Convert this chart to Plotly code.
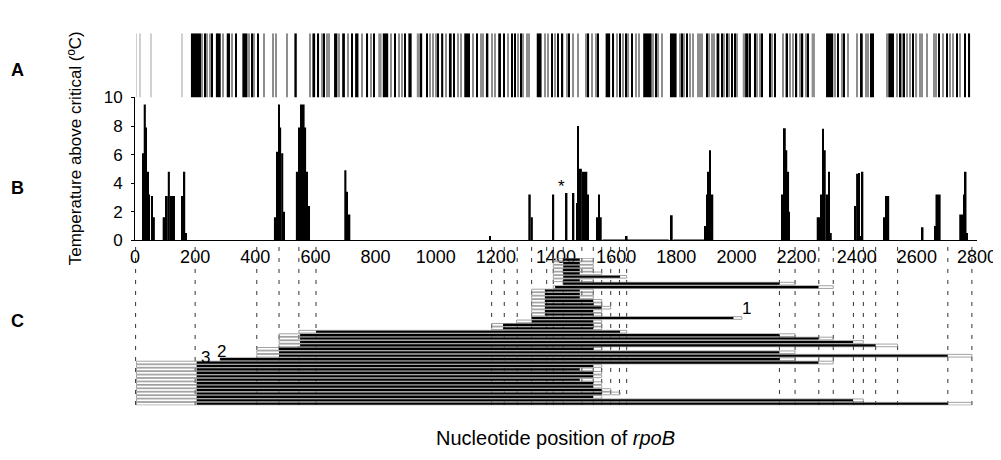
import plotly.graph_objects as go

# ---------------- Panel A: variable-site barcode (nucleotide positions) ----------------
a_black_lines = [216, 233, 257, 336, 388, 410, 610, 629, 721, 773, 795, 865, 898, 953, 972,
                 1009, 1062, 1136, 1228, 1255, 1264, 1284, 1386, 1408, 1443, 1508, 1541, 1591,
                 1613, 1633, 1652, 1732, 1818, 1835, 1901, 1951, 1968, 1984, 1995, 2045, 2062,
                 2086, 2112, 2128, 2169, 2200, 2220, 2239, 2339, 2358, 2447, 2455, 2544, 2557,
                 2588, 2675, 2699, 2733, 2760, 2775]
a_black_block_start = [186, 269, 305, 357, 530, 590, 662, 689, 732, 824, 909, 1018, 1044, 1095,
                       1167, 1208, 1336, 1419, 1565, 1690, 1779, 1934, 2029, 2298, 2411, 2505]
a_black_block_end = [213, 285, 316, 374, 538, 599, 673, 698, 743, 842, 920, 1025, 1053, 1114,
                     1175, 1217, 1352, 1424, 1580, 1718, 1801, 1943, 2040, 2322, 2420, 2524]
a_gray_lines = [224, 240, 249, 292, 322, 380, 396, 429, 458, 469, 506, 582, 621, 638, 646, 679,
                709, 756, 784, 850, 879, 887, 981, 992, 1000, 1033, 1073, 1084, 1125, 1150,
                1158, 1186, 1197, 1241, 1275, 1291, 1303, 1311, 1364, 1374, 1397, 1436, 1458,
                1474, 1499, 1521, 1532, 1602, 1624, 1641, 1665, 1676, 1724, 1740, 1752, 1812,
                1827, 1846, 1855, 1871, 1879, 1885, 1910, 1918, 1926, 1959, 1976, 2003, 2069,
                2079, 2117, 2156, 2165, 2178, 2189, 2212, 2232, 2328, 2350, 2372, 2400, 2430,
                2439, 2500, 2533, 2552, 2566, 2577, 2599, 2610, 2616, 2633, 2658, 2665, 2688,
                2710, 2721, 2744]
a_gray_block_start = [809, 937, 2021, 2250]
a_gray_block_end = [820, 948, 2029, 2261]
a_faint_lines = [5, 18, 52, 155]

# ---------------- Panel B: temperature above critical ----------------
b_start = [24, 29, 36, 40, 44, 54, 57,
           92, 103, 109, 116,
           155, 161, 167,
           462, 469, 472, 476, 480, 486, 493,
           535, 543, 549, 553, 555, 564, 569, 575,
           696, 703, 707,
           1178,
           1308, 1316, 1388, 1430, 1456,
           1467, 1471, 1476, 1486, 1504,
           1533, 1541, 1546,
           1555, 1632, 1782, 1790,
           1895, 1901, 1905, 1910, 1914,
           2150, 2155, 2158, 2164, 2169, 2175,
           2267, 2280, 2285, 2291, 2297, 2306, 2311,
           2394, 2398, 2405, 2411, 2417,
           2489, 2494, 2616, 2658, 2662,
           2741, 2755, 2760, 2765]
b_end = [29, 36, 40, 44, 50, 57, 66,
         103, 109, 116, 133,
         161, 167, 172,
         469, 472, 476, 480, 486, 493, 497,
         543, 549, 553, 555, 564, 569, 575, 582,
         703, 707, 716,
         1183,
         1316, 1323, 1394, 1438, 1461,
         1471, 1476, 1486, 1504, 1508,
         1541, 1546, 1552,
         1775, 1638, 1788, 1893,
         1901, 1905, 1910, 1914, 1923,
         2155, 2158, 2164, 2169, 2175, 2178,
         2278, 2285, 2291, 2297, 2306, 2311, 2317,
         2398, 2405, 2411, 2417, 2422,
         2494, 2508, 2622, 2662, 2679,
         2755, 2760, 2765, 2768]
b_temp = [6.1, 9.5, 7.9, 4.8, 3.2, 3.1, 1.6,
          1.6, 3.1, 4.8, 3.1,
          3.1, 4.8, 0.5,
          1.6, 4.8, 6.2, 9.5, 7.9, 6.1, 2.0,
          4.8, 7.9, 9.5, 7.9, 9.5, 7.9, 4.8, 2.4,
          4.9, 3.4, 1.8,
          0.3,
          3.2, 1.6, 3.2, 3.3, 3.3,
          2.6, 8.0, 5.0, 4.8, 3.2,
          1.6, 3.2, 1.6,
          0.05, 0.3, 1.75, 0.05,
          1.0, 3.2, 4.8, 6.3, 3.2,
          3.2, 6.1, 7.85, 6.3, 4.8, 2.0,
          1.6, 3.2, 7.8, 6.3, 3.2, 4.8, 0.5,
          2.4, 4.65, 4.7, 0.3, 4.8,
          1.6, 3.1, 0.9, 1.0, 3.2,
          1.8, 3.2, 4.8, 0.5]

# ---------------- Panel C: fragments (one row each) ----------------
c_black_start = [1424, 1424, 1424, 1424, 1424, 1424, 1424, 1424, 1397,
                 1363, 1363, 1363, 1363, 1363, 1363, 1363, 1363,
                 1319, 1319, 1224, 1224,
                 602, 549, 549, 549, 549, 479, 479, 479, 283,
                 205, 205, 205, 205, 205, 205, 205, 205, 205, 205, 205, 205, 205]
c_black_end = [1479, 1479, 1479, 1479, 1479, 1613, 1479, 2143, 2273,
               1479, 1479, 1479, 1524, 1524, 1552, 1524, 1524,
               1990, 1524, 1524, 1524,
               1613, 2143, 2273, 2388, 2463, 1524, 2143, 2703, 2143,
               2273, 1524, 1479, 1524, 1524, 1479, 1524, 1524, 1552, 1552, 1524, 2388, 2703]
c_gray_start = [1391, 1391, 1391, 1391, 1391, 1391, 1391, 1424, 1391,
                1319, 1319, 1319, 1319, 1319, 1319, 1319, 1319,
                1319, 1269, 1186, 1186,
                545, 479, 479, 479, 479, 405, 405, 405, 283,
                5, 5, 5, 5, 5, 5, 5, 5, 5, 5, 5, 5, 5]
c_gray_end = [1524, 1524, 1524, 1524, 1552, 1635, 1524, 2195, 2322,
              1524, 1524, 1524, 1552, 1552, 1582, 1552, 1552,
              2018, 1552, 1552, 1552,
              1635, 2195, 2322, 2422, 2536, 1552, 2195, 2783, 2195,
              2322, 1552, 1524, 1552, 1552, 1524, 1552, 1552, 1582, 1613, 1552, 2422, 2783]
c_boundaries = [2, 200, 405, 479, 545, 602, 1186, 1228, 1271, 1319, 1369, 1391, 1424,
                1486, 1524, 1552, 1582, 1611, 1635, 2143, 2195, 2274, 2322, 2389, 2422,
                2463, 2536, 2703, 2783]
c_labels = ["1", "2", "3"]
c_label_pos = [2032, 289, 233]
c_label_row = [14.2, 26.7, 28.4]

x_ticks = list(range(0, 2801, 200))
y_ticks = [0, 2, 4, 6, 8, 10]

FONT = "Liberation Sans, Arial, Helvetica, sans-serif"
LINE_W = 4  # nominal width (nt) of a single barcode line

# the page body adds an 8px offset; lay the figure out in window pixels minus that
OFF = 8
W, H = 1001 - OFF, 460 - OFF
L, R = 135 - OFF, 24
PW = W - L - R


def px_x(p):
    return (p - OFF - L) / PW


def px_y(p):
    return (H - (p - OFF)) / H


fig = go.Figure()


def centers(s, e):
    return [(a + b) / 2 for a, b in zip(s, e)], [b - a for a, b in zip(s, e)]


# Panel A traces
fig.add_trace(go.Bar(x=a_faint_lines, y=[1] * len(a_faint_lines), width=[3] * len(a_faint_lines),
                     marker=dict(color="#d0d0d0", line=dict(width=0)), yaxis="y2", hoverinfo="skip"))
gc, gw = centers(a_gray_block_start, a_gray_block_end)
fig.add_trace(go.Bar(x=a_gray_lines + gc, y=[1] * (len(a_gray_lines) + len(gc)),
                     width=[LINE_W] * len(a_gray_lines) + gw,
                     marker=dict(color="#8e8e8e", line=dict(width=0)), yaxis="y2", hoverinfo="skip"))
bc, bw = centers(a_black_block_start, a_black_block_end)
fig.add_trace(go.Bar(x=a_black_lines + bc, y=[1] * (len(a_black_lines) + len(bc)),
                     width=[LINE_W] * len(a_black_lines) + bw,
                     marker=dict(color="#000000", line=dict(width=0)), yaxis="y2", hoverinfo="skip"))

# Panel B trace
pc, pw = centers(b_start, b_end)
fig.add_trace(go.Bar(x=pc, y=b_temp, width=pw, marker=dict(color="#000000", line=dict(width=0)),
                     yaxis="y", hoverinfo="skip"))

# Panel C traces
rows = list(range(len(c_black_start)))
fig.add_trace(go.Bar(orientation="h", y=rows,
                     x=[e - s for s, e in zip(c_gray_start, c_gray_end)], base=c_gray_start,
                     width=0.78, marker=dict(color="rgba(255,255,255,0)",
                                             line=dict(color="#8a8a8a", width=0.8)),
                     yaxis="y3", hoverinfo="skip"))
fig.add_trace(go.Bar(orientation="h", y=rows,
                     x=[e - s for s, e in zip(c_black_start, c_black_end)], base=c_black_start,
                     width=0.62, marker=dict(color="#000000", line=dict(width=0)),
                     yaxis="y3", hoverinfo="skip"))

# dashed boundary lines
shapes = []
for p in c_boundaries:
    shapes.append(dict(type="line", xref="x", yref="paper", x0=p, x1=p,
                       y0=px_y(413), y1=px_y(243), layer="below",
                       line=dict(color="#333333", width=1, dash="4px,7px")))

annotations = []
for t, xp, rr in zip(c_labels, c_label_pos, c_label_row):
    annotations.append(dict(text=t, x=xp, y=rr, xref="x", yref="y3", showarrow=False,
                            font=dict(family=FONT, size=17, color="black")))
annotations.append(dict(text="*", x=1419, y=3.75, xref="x", yref="y", showarrow=False,
                        font=dict(family=FONT, size=17, color="black")))

for t, yy in zip(["A", "B", "C"], [63, 186, 325]):
    annotations.append(dict(text="<b>%s</b>" % t, x=px_x(17), y=px_y(yy), xref="paper", yref="paper",
                            showarrow=False, xanchor="center", yanchor="middle",
                            font=dict(family=FONT, size=18, color="black")))
annotations.append(dict(text="Temperature above critical (ºC)", x=px_x(75), y=px_y(145),
                        xref="paper", yref="paper", showarrow=False, textangle=-90,
                        xanchor="center", yanchor="middle",
                        font=dict(family=FONT, size=17, color="black")))
annotations.append(dict(text="Nucleotide position of <i>rpoB</i>", x=px_x(555), y=px_y(447),
                        xref="paper", yref="paper", showarrow=False,
                        xanchor="center", yanchor="middle",
                        font=dict(family=FONT, size=20, color="black")))

fig.update_layout(
    width=W, height=H,
    margin=dict(l=L, r=R, t=0, b=0, pad=0),
    paper_bgcolor="white", plot_bgcolor="white",
    barmode="overlay", showlegend=False,
    shapes=shapes, annotations=annotations,
    font=dict(family=FONT, color="black"),
    xaxis=dict(range=[0, 2800], tickvals=x_ticks, ticktext=[str(v) for v in x_ticks],
               showline=True, linecolor="black", linewidth=1, ticks="", showgrid=False,
               zeroline=False, anchor="y", tickfont=dict(family=FONT, size=18, color="black")),
    yaxis=dict(domain=[px_y(241), px_y(92)], range=[0, 10], tickvals=y_ticks,
               showline=True, linecolor="black", linewidth=1, ticks="outside", ticklen=3,
               tickcolor="black", showgrid=False, zeroline=False, anchor="x",
               ticklabelstandoff=5,
               tickfont=dict(family=FONT, size=17, color="black")),
    yaxis2=dict(domain=[px_y(92), px_y(25)], range=[0, 1], visible=False, anchor="x",
                showgrid=False, zeroline=False),
    yaxis3=dict(domain=[px_y(413.5), px_y(259.5)], range=[42.5, -0.5], visible=False,
                anchor="x", showgrid=False, zeroline=False),
)

fig.write_html("out.html")
